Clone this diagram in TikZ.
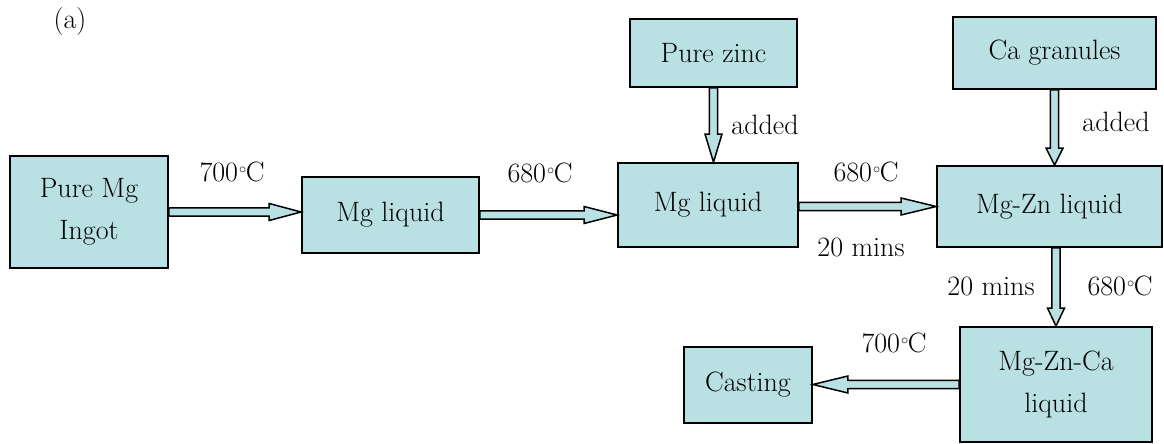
\documentclass[tikz,border=0pt]{standalone}
\usepackage{fontspec}
\usetikzlibrary{calc}
\definecolor{boxfill}{RGB}{185,224,227}
% degree Celsius sign built from a small raised ring and C
\newcommand{\dc}{\kern1pt\raisebox{8.5pt}{\fontsize{15}{15}\selectfont $\circ$}\kern-0.5pt C}

% hollow block arrow from #1 to #2 with head length #3
\newcommand{\fatarrow}[3]{%
  \path (#1) coordinate (fa-s) (#2) coordinate (fa-e)
        ($(fa-e)!#3!(fa-s)$) coordinate (fa-c);
  \draw[blockarrow]
    ($(fa-s)!4.2pt!90:(fa-e)$) -- ($(fa-c)!4.2pt!90:(fa-e)$) --
    ($(fa-c)!8.5pt!90:(fa-e)$) -- (fa-e) --
    ($(fa-c)!8.5pt!-90:(fa-e)$) -- ($(fa-c)!4.2pt!-90:(fa-e)$) --
    ($(fa-s)!4.2pt!-90:(fa-e)$) -- cycle;
}

\tikzset{
  every node/.style={font=\fontsize{28}{42}\selectfont},
  stagebox/.style={draw=black, line width=1.8pt, fill=boxfill,
    align=center, inner sep=0pt},
  blockarrow/.style={draw=black, line width=1.5pt, fill=boxfill,
    line join=miter},
  note/.style={inner sep=0pt, anchor=center},
}

\begin{document}
\begin{tikzpicture}[x=1pt, y=-1pt]
\useasboundingbox (0,0) rectangle (1164,444);

% process stages
\node[stagebox, minimum width=158pt, minimum height=112pt] (ingot) at (89,212) {Pure Mg\\Ingot};
\node[stagebox, minimum width=177pt, minimum height=76pt] (liqA) at (390.5,215) {Mg liquid};
\node[stagebox, minimum width=167pt, minimum height=68pt] (zinc) at (713.5,53) {Pure zinc};
\node[stagebox, minimum width=180pt, minimum height=84pt] (liqB) at (708,205) {Mg liquid};
\node[stagebox, minimum width=203pt, minimum height=72pt] (cagr) at (1054.5,53) {Ca granules};
\node[stagebox, minimum width=225pt, minimum height=81pt] (mgzn) at (1049.5,206.5) {Mg-Zn liquid};
\node[stagebox, minimum width=192pt, minimum height=115pt] (mgznca) at (1056,384.5) {Mg-Zn-Ca\\liquid};
\node[stagebox, minimum width=128pt, minimum height=76pt] (cast) at (748,385) {Casting};

% flow arrows
\fatarrow{ingot.east}{liqA.west |- ingot.east}{32pt}
\fatarrow{liqA.east}{liqB.west |- liqA.east}{33pt}
\fatarrow{zinc.south}{zinc.south |- liqB.north}{28pt}
\fatarrow{liqB.east |- mgzn.west}{mgzn.west}{35pt}
\fatarrow{cagr.south}{cagr.south |- mgzn.north}{17pt}
\fatarrow{mgznca.north |- mgzn.south}{mgznca.north}{18pt}
\fatarrow{mgznca.west}{cast.east |- mgznca.west}{35pt}

% process conditions
\node[note] (lblA) at (70,22) {(a)};
\node[note] (t1) at (232,172) {700\dc};
\node[note] (t2) at (540,173) {680\dc};
\node[note] (t3) at (866,172) {680\dc};
\node[note] (m3) at (861,247) {20 mins};
\node[note] (addZn) at (765,125) {added};
\node[note] (addCa) at (1116,122) {added};
\node[note] (m4) at (991,286) {20 mins};
\node[note] (t4) at (1120,286) {680\dc};
\node[note] (t5) at (894,343) {700\dc};
\end{tikzpicture}
\end{document}
